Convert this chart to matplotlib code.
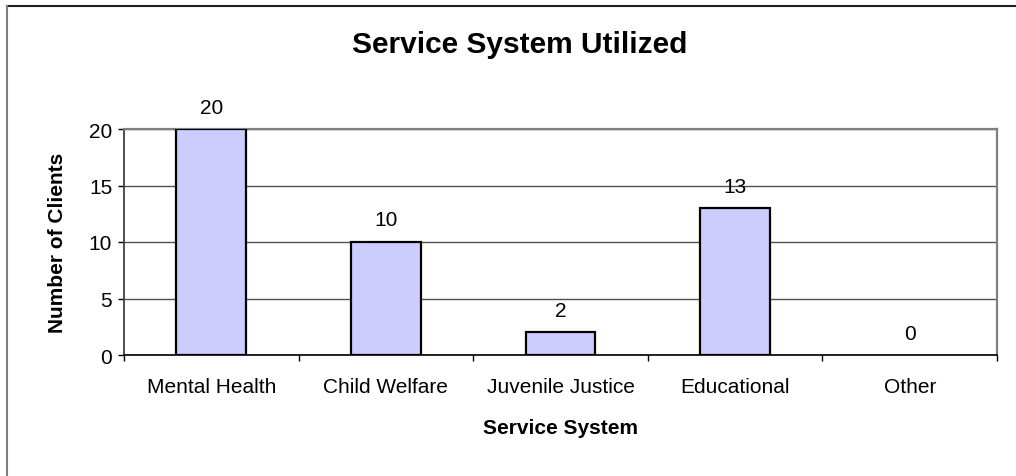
import matplotlib
matplotlib.use("Agg")
import matplotlib.pyplot as plt
from matplotlib.lines import Line2D
from matplotlib.ticker import FixedLocator, NullFormatter

plt.rcParams['font.family'] = ['Liberation Sans', 'DejaVu Sans']

categories = ["Mental Health", "Child Welfare", "Juvenile Justice", "Educational", "Other"]
clients = [20, 10, 2, 13, 0]
y_ticks = [0, 5, 10, 15, 20]

W, H = 1016, 477
fig = plt.figure(figsize=(W / 100, H / 100), dpi=100)
ax = fig.add_axes([124 / W, 1 - 356 / H, (997 - 124) / W, (356 - 130) / H])

x = list(range(len(categories)))
# empty categories get no outline so nothing sits on the baseline
edge_widths = [1.6 if v > 0 else 0 for v in clients]
bars = ax.bar(x, clients, width=0.4, color="#CCCCFF", edgecolor="black",
              linewidth=edge_widths, zorder=3)

for xi, v in zip(x, clients):
    ax.annotate(str(v), (xi, v), xytext=(0, 9), textcoords="offset points",
                ha="center", va="bottom", fontsize=15, color="black")

ax.set_xlim(-0.5, len(categories) - 0.5)
ax.set_ylim(0, 20)
ax.set_yticks(y_ticks)
ax.set_yticklabels([str(t) for t in y_ticks], fontsize=15)
ax.yaxis.grid(True, color="#505050", linewidth=1.0, zorder=0)
ax.set_axisbelow(True)

ax.set_xticks(x)
ax.set_xticklabels(categories, fontsize=15)
ax.xaxis.set_minor_locator(FixedLocator([i - 0.5 for i in range(len(categories) + 1)]))
ax.xaxis.set_minor_formatter(NullFormatter())
ax.tick_params(axis="x", which="major", length=0, pad=16)
ax.tick_params(axis="x", which="minor", length=4.5, width=1.0, color="black")
ax.tick_params(axis="y", length=4.5, width=1.0, pad=4)

for side in ("top", "right"):
    ax.spines[side].set_color("#808080")
    ax.spines[side].set_linewidth(1.6)
ax.spines["left"].set_color("#404040")
ax.spines["left"].set_linewidth(1.3)
ax.spines["bottom"].set_color("black")
ax.spines["bottom"].set_linewidth(1.2)

ax.set_xlabel("Service System", fontsize=15, fontweight="bold", labelpad=16)
ax.set_ylabel("Number of Clients", fontsize=15, fontweight="bold", labelpad=16)

fig.text(520 / W, 1 - 45 / H, "Service System Utilized", fontsize=21.5,
         fontweight="bold", ha="center", va="center")

# chart frame
fig.add_artist(Line2D([6.5 / W, 1.0], [1 - 6.5 / H, 1 - 6.5 / H],
                      transform=fig.transFigure, color="#202020", linewidth=1.5))
fig.add_artist(Line2D([6.5 / W, 6.5 / W], [0.0, 1 - 6.5 / H],
                      transform=fig.transFigure, color="#808080", linewidth=1.5))

fig.savefig("out.png", dpi=100, facecolor="white")
